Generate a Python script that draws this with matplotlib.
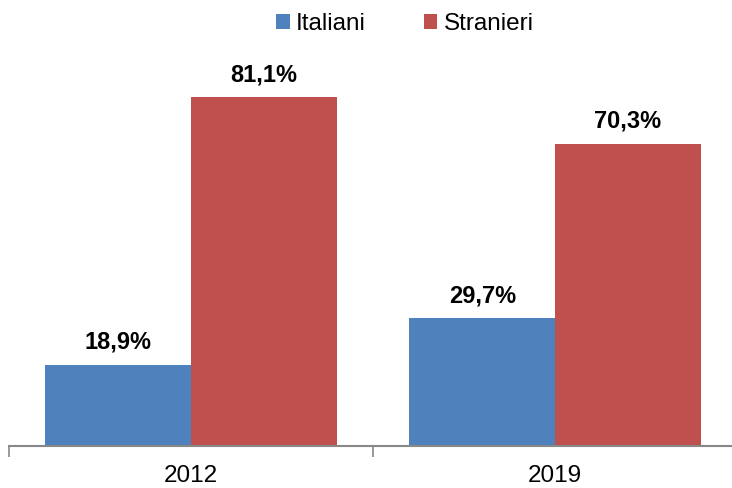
import numpy as np
import matplotlib
matplotlib.use("Agg")
import matplotlib.pyplot as plt

# data
anni = ["2012", "2019"]
italiani = [18.9, 29.7]
stranieri = [81.1, 70.3]
serie = ["Italiani", "Stranieri"]
colori = ["#4F81BD", "#C0504D"]

plt.rcParams['font.family'] = ['Liberation Sans', 'DejaVu Sans']

fig = plt.figure(figsize=(7.32, 4.88), dpi=100)
# axes in pixel terms: left 9, right 737, baseline 446, top 16
ax = fig.add_axes([9 / 732, (488 - 446) / 488, 728 / 732, 430 / 488])

x = np.arange(len(anni))
w = 0.4
b1 = ax.bar(x - w / 2, italiani, w, color=colori[0], label=serie[0])
b2 = ax.bar(x + w / 2, stranieri, w, color=colori[1], label=serie[1])

for bars, vals in [(b1, italiani), (b2, stranieri)]:
    for r, v in zip(bars, vals):
        ax.annotate(f"{v:.1f}%".replace(".", ","),
                    (r.get_x() + r.get_width() / 2, v),
                    xytext=(0, 8), textcoords="offset points",
                    ha="center", va="bottom", fontsize=17, fontweight="bold")

ax.set_xlim(-0.5, 1.5)
ax.set_ylim(0, 100)
ax.set_yticks([])
ax.set_xticks([-0.5, 0.5, 1.5])
ax.set_xticklabels([])
ax.set_xticks(x, minor=True)
ax.set_xticklabels(anni, minor=True, fontsize=17.5)
ax.tick_params(axis="x", which="major", length=8, width=1.2, color="#888888")
ax.tick_params(axis="x", which="minor", length=0, pad=14)
for s in ["top", "right", "left"]:
    ax.spines[s].set_visible(False)
ax.spines["bottom"].set_color("#888888")
ax.spines["bottom"].set_linewidth(1.5)

fig.legend(loc="center", bbox_to_anchor=(405 / 732, 1 - 24 / 488), ncol=2,
           frameon=False, fontsize=17.5, handlelength=0.55, handleheight=0.55,
           handletextpad=0.25, columnspacing=2.4)

fig.savefig("out.png", dpi=100)
